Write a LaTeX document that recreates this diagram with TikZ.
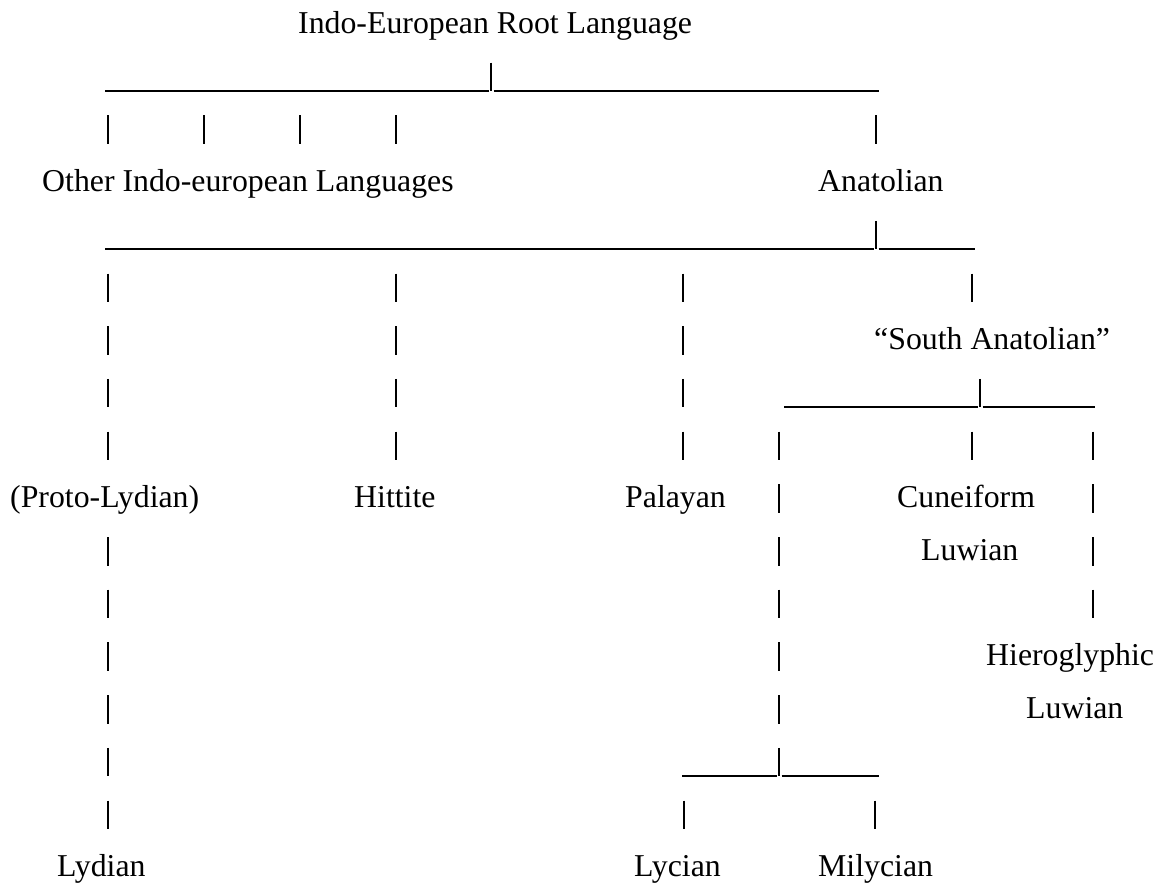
\documentclass[tikz,border=0pt]{standalone}
\usepackage{fontspec}
\setmainfont{Liberation Serif}
\begin{document}
\begin{tikzpicture}[x=1pt,y=-1pt,
  lbl/.style={anchor=base west,inner sep=0pt,font=\fontsize{31.8pt}{38pt}\selectfont},
  vbar/.style={line width=1.3pt,black},
  hbar/.style={line width=1.6pt,black}]
\useasboundingbox (0,0) rectangle (1161,884);
% row k baseline = 33 + 52.7 k
% labels
\node[lbl] (root)  at (298,{33+52.7*0})  {Indo-European Root Language};
\node[lbl] (other) at (42,{33+52.7*3})   {Other Indo-european Languages};
\node[lbl] (anat)  at (818,{33+52.7*3})  {Anatolian};
\node[lbl] (south) at (874,{33+52.7*6})  {“South Anatolian”};
\node[lbl] (proto) at (10,{33+52.7*9})   {(Proto-Lydian)};
\node[lbl] (hitt)  at (354,{33+52.7*9})  {Hittite};
\node[lbl] (pala)  at (625,{33+52.7*9})  {Palayan};
\node[lbl] (cun1)  at (897,{33+52.7*9})  {Cuneiform};
\node[lbl] (cun2)  at (921,{33+52.7*10}) {Luwian};
\node[lbl] (hie1)  at (986,{33+52.7*12}) {Hieroglyphic};
\node[lbl] (hie2)  at (1026,{33+52.7*13}) {Luwian};
\node[lbl] (lyd)   at (57,{33+52.7*16})  {Lydian};
\node[lbl] (lyc)   at (634,{33+52.7*16}) {Lycian};
\node[lbl] (mily)  at (818,{33+52.7*16}) {Milycian};
% horizontal bars (underscore rules), broken round the branching bar
\foreach \xa/\xm/\xb/\k in {105/491/879/1, 105/876/975/4, 784/980/1095/7, 682/779/879/14}{
  \draw[hbar] (\xa,{33+52.7*\k+5}) -- ({\xm-2.5},{33+52.7*\k+5});
  \draw[hbar] ({\xm+2.5},{33+52.7*\k+5}) -- (\xb,{33+52.7*\k+5});
}
% vertical bars
\foreach \x/\k in {491/1,
  108/2, 204/2, 300/2, 396/2, 876/2,
  876/4,
  108/5, 396/5, 683/5, 972/5,
  108/6, 396/6, 683/6,
  108/7, 396/7, 683/7, 980/7,
  108/8, 396/8, 683/8, 779/8, 972/8, 1093/8,
  779/9, 1093/9,
  108/10, 779/10, 1093/10,
  108/11, 779/11, 1093/11,
  108/12, 779/12,
  108/13, 779/13,
  108/14, 779/14,
  108/15, 684/15, 875/15}
  \draw[vbar] (\x,{33+52.7*\k-23}) -- (\x,{33+52.7*\k+5.5});
\end{tikzpicture}
\end{document}
